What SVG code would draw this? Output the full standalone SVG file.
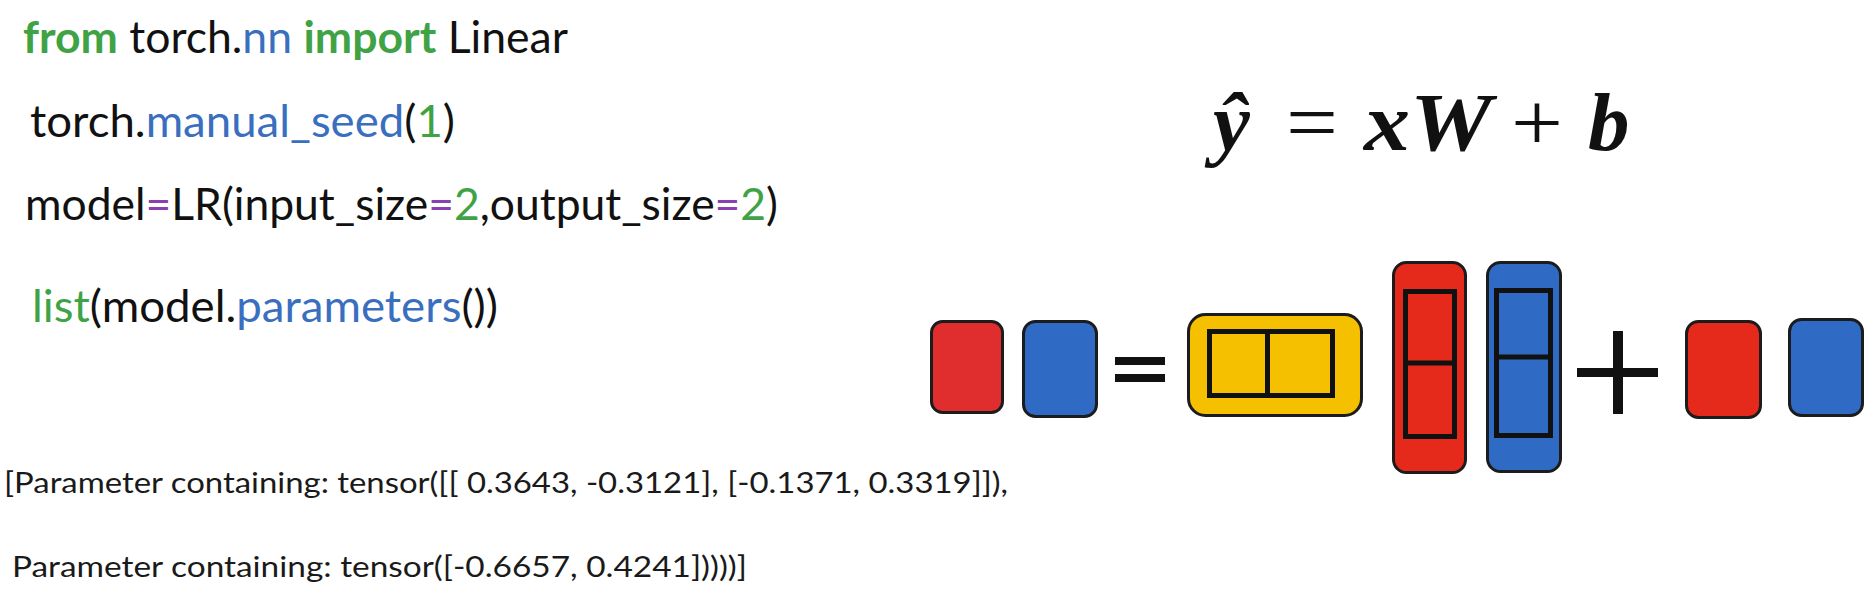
<svg xmlns="http://www.w3.org/2000/svg" width="1875" height="601" viewBox="0 0 1875 601">
<style>
.code{font-family:Lato,"Liberation Sans",sans-serif;font-size:44px;fill:#111;white-space:pre}
.out{font-family:Lato,"Liberation Sans",sans-serif;font-size:28.5px;fill:#1a1a1a;white-space:pre}
.kw{fill:#3fa346;font-weight:bold}
.gr{fill:#3fa346}
.bl{fill:#3a6fbf}
.pu{fill:#8a40b0}
.math{font-family:"Liberation Serif","DejaVu Serif",serif;font-size:83px;fill:#111}
.mi{font-style:italic;font-weight:bold}
.box{stroke:#1c1c1c;stroke-width:3}
.red{fill:#e52a1c}
.red2{fill:#e02e2e}
.blue{fill:#2f6bc4}
.yel{fill:#f4c000}
.cell{fill:none;stroke:#111;stroke-width:5}
.sym{fill:#111}
</style>
<rect width="1875" height="601" fill="#ffffff"/>
<g id="code">
<text class="code" x="23" y="53" textLength="545" lengthAdjust="spacingAndGlyphs"><tspan class="kw">from</tspan> torch.<tspan class="bl">nn</tspan> <tspan class="kw">import</tspan> Linear</text>
<text class="code" x="30" y="137" textLength="425" lengthAdjust="spacingAndGlyphs">torch.<tspan class="bl">manual_seed</tspan>(<tspan class="gr">1</tspan>)</text>
<text class="code" x="25" y="220" textLength="753" lengthAdjust="spacingAndGlyphs">model<tspan class="pu">=</tspan>LR(input_size<tspan class="pu">=</tspan><tspan class="gr">2</tspan>,output_size<tspan class="pu">=</tspan><tspan class="gr">2</tspan>)</text>
<text class="code" x="32" y="322" textLength="466" lengthAdjust="spacingAndGlyphs"><tspan class="gr">list</tspan>(model.<tspan class="bl">parameters</tspan>())</text>
</g>
<g id="output">
<text class="out" x="4" y="493" textLength="1004" lengthAdjust="spacingAndGlyphs">[Parameter containing: tensor([[ 0.3643, -0.3121], [-0.1371, 0.3319]]),</text>
<text class="out" x="12" y="577" textLength="735" lengthAdjust="spacingAndGlyphs">Parameter containing: tensor([-0.6657, 0.4241]))))]</text>
</g>
<g id="formula" class="math">
<text class="mi" x="1213" y="150">ŷ</text>
<text x="1286" y="150" textLength="52" lengthAdjust="spacingAndGlyphs">=</text>
<text class="mi" x="1364" y="150" textLength="128" lengthAdjust="spacingAndGlyphs">xW</text>
<text x="1511" y="150" textLength="52" lengthAdjust="spacingAndGlyphs">+</text>
<text class="mi" x="1588" y="150">b</text>
</g>
<g id="y-red">
<rect class="box red2" x="931.5" y="321.5" width="71" height="91" rx="11"/>
</g>
<g id="y-blue">
<rect class="box blue" x="1023.5" y="321.5" width="73" height="95" rx="12"/>
</g>
<g id="equals">
<rect class="sym" x="1115" y="357" width="50" height="8"/>
<rect class="sym" x="1115" y="374" width="50" height="8"/>
</g>
<g id="x-input">
<rect class="box yel" x="1188.5" y="314.5" width="173" height="101" rx="17"/>
<rect class="cell" x="1209.5" y="331.5" width="123" height="64"/>
<line x1="1267.5" y1="331.5" x2="1267.5" y2="395.5" stroke="#111" stroke-width="5"/>
</g>
<g id="w-red">
<rect class="box red" x="1393.5" y="262.5" width="72" height="210" rx="13"/>
<rect class="cell" x="1405.5" y="291.5" width="49" height="145"/>
<line x1="1405.5" y1="363" x2="1454.5" y2="363" stroke="#111" stroke-width="5"/>
</g>
<g id="w-blue">
<rect class="box blue" x="1487.5" y="262.5" width="73" height="209" rx="13"/>
<rect class="cell" x="1496.5" y="290.5" width="54" height="145"/>
<line x1="1496.5" y1="357" x2="1550.5" y2="357" stroke="#111" stroke-width="5"/>
</g>
<g id="plus">
<rect class="sym" x="1577" y="368" width="81" height="9"/>
<rect class="sym" x="1613" y="331" width="10" height="83"/>
</g>
<g id="b-red">
<rect class="box red" x="1686.5" y="321.5" width="74" height="96" rx="12"/>
</g>
<g id="b-blue">
<rect class="box blue" x="1789.5" y="319.5" width="73" height="96" rx="12"/>
</g>
<g id="connectors"></g>
</svg>
